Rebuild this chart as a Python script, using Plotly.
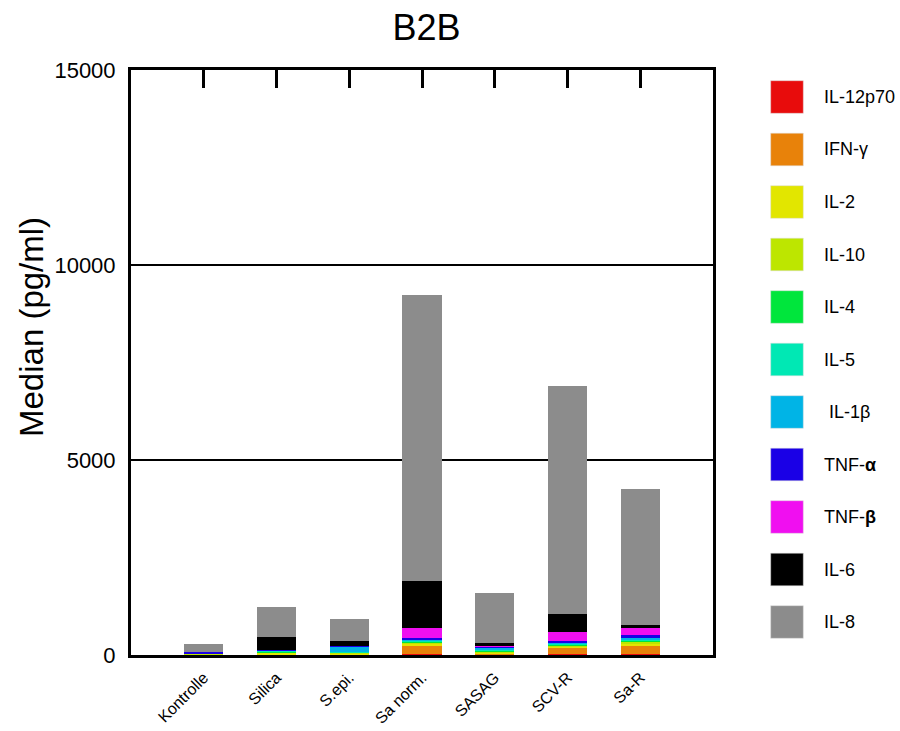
import plotly.graph_objects as go

categories = ["Kontrolle", "Silica", "S.epi.", "Sa norm.", "SASAG", "SCV-R", "Sa-R"]

series_names = ["IL-12p70", "IFN-γ", "IL-2", "IL-10", "IL-4", "IL-5",
                "IL-1β", "TNF-α", "TNF-β", "IL-6", "IL-8"]
legend_labels = ["IL-12p70", "IFN-γ", "IL-2", "IL-10", "IL-4", "IL-5",
                 " IL-1β", "TNF-<b>α</b>", "TNF-<b>β</b>", "IL-6", "IL-8"]
colors = ["#e80c0c", "#e8820a", "#e2e600", "#bde600", "#00e63c", "#00e8b4",
          "#00b4e6", "#1a00e6", "#f00ff0", "#000000", "#8c8c8c"]

il12p70 = [5, 3, 3, 25, 5, 15, 25]
ifng = [15, 10, 10, 230, 25, 170, 215]
il2 = [5, 40, 35, 43, 35, 40, 60]
il10 = [3, 20, 10, 35, 20, 30, 43]
il4 = [3, 25, 5, 20, 25, 20, 25]
il5 = [3, 10, 5, 15, 25, 15, 18]
il1b = [3, 15, 160, 35, 50, 35, 43]
tnfa = [40, 10, 5, 43, 25, 45, 95]
tnfb = [3, 5, 5, 235, 15, 230, 160]
il6 = [5, 315, 130, 1210, 80, 460, 85]
il8 = [185, 775, 555, 7340, 1285, 5840, 3490]

series_values = [il12p70, ifng, il2, il10, il4, il5, il1b, tnfa, tnfb, il6, il8]

y_ticks = [0, 5000, 10000, 15000]
y_tick_labels = ["0", "5000", "10000", "15000"]

FONT = "Liberation Sans, Arial, sans-serif"

fig = go.Figure()
for name, vals, col in zip(series_names, series_values, colors):
    fig.add_trace(go.Bar(x=categories, y=vals, name=name, marker_color=col,
                         marker_line_width=0, width=0.54, showlegend=False))

# invisible trace to anchor the top tick axis
fig.add_trace(go.Scatter(x=[0], y=[0], xaxis="x2", yaxis="y", mode="markers",
                         marker=dict(opacity=0), showlegend=False, hoverinfo="skip"))

W, H = 900, 731
L, R, T, B = 131, 187, 70, 76
pw = W - L - R
ph = H - T - B

def px2paper_x(px):
    return (px - L) / pw

def px2paper_y(py):
    return (H - B - py) / ph

shapes = []
annotations = []
half = 16.3
for i, (lab, col) in enumerate(zip(legend_labels, colors)):
    cy = 97 + 52.5 * i
    cx = 787
    shapes.append(dict(type="rect", xref="paper", yref="paper",
                       x0=px2paper_x(cx - half), x1=px2paper_x(cx + half),
                       y0=px2paper_y(cy + half), y1=px2paper_y(cy - half),
                       fillcolor=col, line=dict(width=0.5, color="#dddddd")))
    annotations.append(dict(xref="paper", yref="paper", x=px2paper_x(822),
                            y=px2paper_y(cy), text=lab, showarrow=False,
                            xanchor="left", yanchor="middle",
                            font=dict(family=FONT, size=18, color="black")))

# y-axis title
annotations.append(dict(xref="paper", yref="paper", x=px2paper_x(31),
                        y=px2paper_y(327), text="Median (pg/ml)", textangle=-90,
                        showarrow=False, xanchor="center", yanchor="middle",
                        font=dict(family=FONT, size=33, color="black")))

fig.update_layout(
    width=W, height=H,
    margin=dict(l=L, r=R, t=T, b=B, autoexpand=False),
    barmode="stack",
    plot_bgcolor="white", paper_bgcolor="white",
    font=dict(family=FONT, color="black"),
    title=dict(text="B2B", x=0.474, xanchor="center", y=0.962, yanchor="middle",
               font=dict(family=FONT, size=36, color="black")),
    xaxis=dict(type="category", categoryorder="array", categoryarray=categories,
               range=[-1, 7], showline=True, linecolor="black", linewidth=3,
               mirror=True, ticks="", tickangle=-45, automargin=False,
               ticklabelstandoff=4,
               tickfont=dict(family=FONT, size=16, color="black"),
               showgrid=False, zeroline=False),
    xaxis2=dict(overlaying="x", side="top", range=[-1, 7],
                tickvals=list(range(len(categories))), ticks="inside",
                ticklen=18, tickwidth=3, tickcolor="black", automargin=False,
                showticklabels=False, showline=False, showgrid=False,
                zeroline=False),
    yaxis=dict(range=[0, 15000], tickvals=y_ticks, ticktext=y_tick_labels,
               ticks="", showline=True, linecolor="black", automargin=False,
               linewidth=3, mirror=True, showgrid=True, gridcolor="black",
               gridwidth=2, zeroline=False, ticklabelstandoff=8,
               tickfont=dict(family=FONT, size=22, color="black")),
    shapes=shapes,
    annotations=annotations,
    showlegend=False,
)

fig.write_html("out.html")
